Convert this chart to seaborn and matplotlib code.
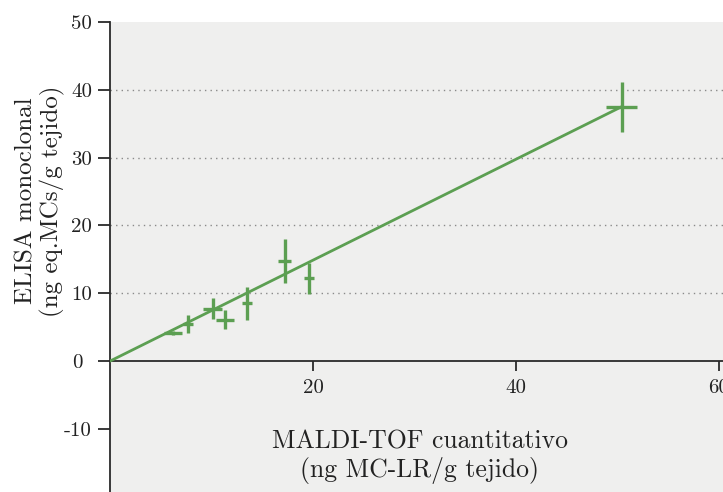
import numpy as np
import pandas as pd
import matplotlib
matplotlib.use('Agg')
import matplotlib.pyplot as plt
import seaborn as sns

# -----------------------------
# data
# -----------------------------
maldi = [6.2, 7.7, 10.1, 11.3, 13.5, 17.2, 19.6, 50.4]
elisa = [4.2, 5.5, 7.75, 6.1, 8.5, 14.8, 12.2, 37.5]
maldi_err = [0.9, 0.5, 0.9, 0.9, 0.5, 0.6, 0.5, 1.5]
elisa_err = [0.3, 1.35, 1.5, 1.4, 2.45, 3.25, 2.3, 3.7]

fit_x = [0.0, 50.4]
fit_y = [0.0, 37.5]

y_ticks = [-10, 0, 10, 20, 30, 40, 50]
y_ticklabels = ['-10', '0', '10', '20', '30', '40', '50']
x_ticks = [20, 40, 60]
x_ticklabels = ['20', '40', '60']
grid_levels = [10, 20, 30, 40]

df = pd.DataFrame({'maldi': maldi, 'elisa': elisa,
                   'maldi_err': maldi_err, 'elisa_err': elisa_err})
df_fit = pd.DataFrame({'x': fit_x, 'y': fit_y})

green = '#5c9f52'

sns.set_theme(style='white')
plt.rcParams['font.family'] = ['cmr10', 'DejaVu Serif']
plt.rcParams['axes.unicode_minus'] = False

fig = plt.figure(figsize=(7.23, 4.92), dpi=100)
fig.patch.set_facecolor('white')
ax = fig.add_axes([110 / 723, 0, 613 / 723, 470 / 492])
ax.set_facecolor('#efefee')

ax.set_xlim(0, 60.4)
ax.set_ylim(-19.3, 50)

# dotted guide lines
for lv in grid_levels:
    ax.axhline(lv, color='#8a8a8a', lw=1.0, ls=(0, (1, 3)), zorder=1)

# fitted line
sns.lineplot(data=df_fit, x='x', y='y', ax=ax, color=green, lw=2.0, zorder=3)

# crosses
ax.errorbar(df['maldi'], df['elisa'], xerr=df['maldi_err'], yerr=df['elisa_err'],
            fmt='none', ecolor=green, elinewidth=2.4, capsize=0, zorder=4)

# axes styling
ax.spines['bottom'].set_position(('data', 0))
ax.spines['top'].set_visible(False)
ax.spines['right'].set_visible(False)
for s in ['left', 'bottom']:
    ax.spines[s].set_color('#2a2a2a')
    ax.spines[s].set_linewidth(1.3)

ax.set_yticks(y_ticks)
ax.set_yticklabels(y_ticklabels)
ax.set_xticks(x_ticks)
ax.set_xticklabels(x_ticklabels)
ax.tick_params(axis='y', direction='out', length=9, width=1.3, color='#2a2a2a',
               labelsize=15, pad=4, left=True, labelcolor='#222222')
ax.tick_params(axis='x', direction='out', length=7, width=1.3, color='#2a2a2a',
               labelsize=15, pad=6, bottom=True, labelcolor='#222222')

# the "0" label sits a little further left in the original
ax.yaxis.get_major_ticks()[1].set_pad(11)

ax.set_xlabel('')
ax.set_ylabel('')

ax.text(30.5, -14.1, 'MALDI-TOF cuantitativo\n(ng MC-LR/g tejido)',
        ha='center', va='center', fontsize=18.5, linespacing=1.15, color='#222222')
fig.text(40 / 723, 1 - 201 / 492, 'ELISA monoclonal\n(ng eq.MCs/g tejido)',
         rotation=90, ha='center', va='center', fontsize=18, linespacing=1.15,
         color='#222222')

fig.savefig('out.png', dpi=100)
